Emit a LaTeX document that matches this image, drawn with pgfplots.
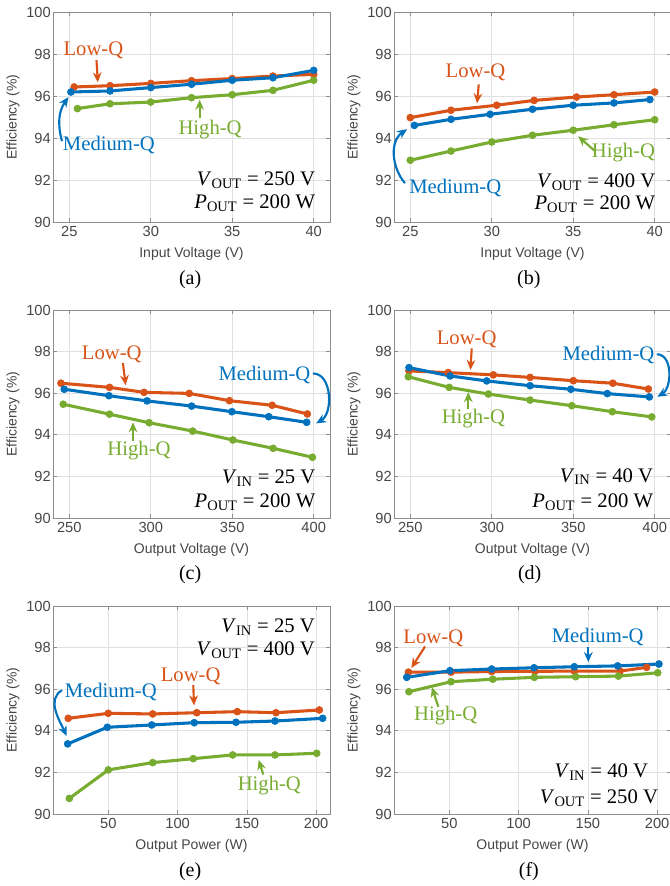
\documentclass[border=0pt]{standalone}
\usepackage{fontspec}
\setmainfont{Liberation Serif}
\setsansfont{Liberation Sans}
\usepackage{pgfplots}
\pgfplotsset{compat=1.18}
\usetikzlibrary{arrows.meta}
\definecolor{lowq}{RGB}{217,83,25}
\definecolor{medq}{RGB}{0,114,189}
\definecolor{highq}{RGB}{119,172,48}
\definecolor{axgray}{RGB}{140,140,140}
\definecolor{txtgray}{RGB}{70,70,70}
\pgfplotsset{
  eff/.style={
    scale only axis, width=207.75pt, height=156pt,
    anchor=south west,
    ymin=90, ymax=100, ytick={90,92,...,100},
    grid=major, major grid style={draw=black!12, line width=0.5pt},
    axis line style={draw=axgray, line width=0.6pt},
    tick style={draw=axgray, line width=0.6pt}, tick align=inside, major tick length=3pt,
    tick label style={font=\sffamily\fontsize{11}{11}\selectfont, text=txtgray},
    yticklabel style={inner xsep=1.5pt},
    /pgf/number format/assume math mode=true,
    label style={font=\sffamily\fontsize{10.5}{10.5}\selectfont, text=txtgray},
    xlabel style={yshift=-1pt},
    ylabel={Efficiency (\%)},
    clip=false,
    every axis plot/.append style={line width=2.3pt, mark=*, mark size=2.6pt, mark options={line width=0.5pt}},
  },
}
\tikzset{
  ann/.style={font=\fontsize{15.5}{15.5}\selectfont, inner sep=0pt},
  arr/.style={-{Stealth[length=7.5pt, width=6.5pt]}, line width=1.6pt},
  subcap/.style={font=\fontsize{15}{15}\selectfont, inner sep=0pt},
}
\begin{document}
\begin{tikzpicture}
\useasboundingbox (0,0) rectangle (501.75pt,664.5pt);
% ---------------- (a)
\begin{axis}[eff, at={(39.75pt,498pt)}, height=157.5pt,
  xmin=24, xmax=41, xtick={25,30,35,40}, xlabel={Input Voltage (V)}]
\addplot[lowq] coordinates {(25.3,96.43) (27.5,96.49) (30,96.60) (32.5,96.73) (35,96.83) (37.5,96.95) (40,97.03)};
\addplot[medq] coordinates {(25.1,96.19) (27.5,96.24) (30,96.40) (32.5,96.56) (35,96.75) (37.5,96.87) (40,97.22)};
\addplot[highq] coordinates {(25.5,95.40) (27.5,95.63) (30,95.71) (32.5,95.92) (35,96.06) (37.5,96.27) (40,96.75)};
\node[ann, text=lowq] at (axis cs:26.48,98.16) {Low-Q};
\draw[arr, lowq] (axis cs:26.67,97.71) -- (axis cs:26.75,96.65);
\node[ann, text=medq] at (axis cs:27.43,93.67) {Medium-Q};
\draw[arr, medq] (axis cs:24.55,93.85) to[out=105,in=235] (axis cs:24.95,95.95);
\node[ann, text=highq] at (axis cs:33.64,94.38) {High-Q};
\draw[arr, highq] (axis cs:33.0,94.95) -- (axis cs:33.0,95.82);
\node[ann, anchor=east] at (axis cs:40.1,92.0) {\textit{V}\textsubscript{OUT} = 250 V};
\node[ann, anchor=east] at (axis cs:40.1,90.9) {\textit{P}\textsubscript{OUT} = 200 W};
\node[subcap] at (rel axis cs:0.495,-0.276) {(a)};
\end{axis}
% ---------------- (b)
\begin{axis}[eff, at={(295.5pt,498pt)}, height=157.5pt,
  xmin=24, xmax=41, xtick={25,30,35,40}, xlabel={Input Voltage (V)}]
\addplot[lowq] coordinates {(25,94.97) (27.5,95.32) (30.3,95.56) (32.6,95.79) (35.2,95.95) (37.5,96.06) (40,96.19)};
\addplot[medq] coordinates {(25.25,94.60) (27.5,94.89) (29.9,95.13) (32.5,95.37) (35,95.56) (37.5,95.67) (39.7,95.83)};
\addplot[highq] coordinates {(25,92.94) (27.5,93.38) (30,93.81) (32.5,94.13) (35,94.37) (37.5,94.63) (40,94.87)};
\node[ann, text=lowq] at (axis cs:29.0,97.14) {Low-Q};
\draw[arr, lowq] (axis cs:29.2,96.55) -- (axis cs:29.1,95.65);
\node[ann, text=medq] at (axis cs:27.76,91.63) {Medium-Q};
\draw[arr, medq] (axis cs:24.67,91.85) to[out=130,in=215] (axis cs:24.8,94.42);
\node[ann, text=highq] at (axis cs:38.08,93.29) {High-Q};
\draw[arr, highq] (axis cs:36.3,93.4) -- (axis cs:35.3,94.08);
\node[ann, anchor=east] at (axis cs:40.05,91.9) {\textit{V}\textsubscript{OUT} = 400 V};
\node[ann, anchor=east] at (axis cs:40.05,90.84) {\textit{P}\textsubscript{OUT} = 200 W};
\node[subcap] at (rel axis cs:0.487,-0.276) {(b)};
\end{axis}
% ---------------- (c)
\begin{axis}[eff, at={(39.75pt,276pt)},
  xmin=240, xmax=410, xtick={250,300,350,400}, xlabel={Output Voltage (V)}]
\addplot[lowq] coordinates {(244.9,96.48) (274.7,96.28) (295.9,96.04) (323.6,95.99) (348.3,95.64) (374.5,95.42) (396.1,95.00)};
\addplot[medq] coordinates {(246.9,96.19) (274.3,95.88) (297.7,95.63) (325.1,95.38) (349.8,95.11) (372.4,94.87) (395.7,94.60)};
\addplot[highq] coordinates {(246.3,95.47) (274.7,94.99) (299,94.58) (325.7,94.18) (350.4,93.75) (375.1,93.35) (399.2,92.92)};
\node[ann, text=lowq] at (axis cs:276.1,97.87) {Low-Q};
\draw[arr, lowq] (axis cs:282.9,97.45) -- (axis cs:284.6,96.38);
\node[ann, text=medq] at (axis cs:369.8,96.88) {Medium-Q};
\draw[arr, medq] (axis cs:399.5,96.95) to[out=0,in=30] (axis cs:401.5,94.55);
\node[ann, text=highq] at (axis cs:292.8,93.24) {High-Q};
\draw[arr, highq] (axis cs:289.1,93.7) -- (axis cs:289.1,94.6);
\node[ann, anchor=east] at (axis cs:401.2,91.91) {\textit{V}\textsubscript{IN} = 25 V};
\node[ann, anchor=east] at (axis cs:401.2,90.78) {\textit{P}\textsubscript{OUT} = 200 W};
\node[subcap] at (rel axis cs:0.495,-0.274) {(c)};
\end{axis}
% ---------------- (d)
\begin{axis}[eff, at={(295.5pt,276pt)},
  xmin=240, xmax=410, xtick={250,300,350,400}, xlabel={Output Voltage (V)}]
\addplot[lowq] coordinates {(249.2,97.07) (273.3,96.99) (301,96.88) (323.5,96.76) (350.1,96.60) (374.3,96.48) (396.1,96.20)};
\addplot[medq] coordinates {(249.2,97.23) (274.4,96.83) (296.9,96.59) (323.5,96.36) (348.5,96.19) (370.9,95.98) (396.7,95.82)};
\addplot[highq] coordinates {(248.8,96.79) (273.9,96.28) (297.9,95.96) (323.5,95.67) (349.1,95.40) (374,95.11) (398.2,94.86)};
\node[ann, text=lowq] at (axis cs:284.6,98.61) {Low-Q};
\draw[arr, lowq] (axis cs:287.7,98.15) -- (axis cs:286.9,97.12);
\node[ann, text=medq] at (axis cs:371.6,97.84) {Medium-Q};
\draw[arr, medq] (axis cs:401.3,97.87) to[out=0,in=30] (axis cs:401.6,95.83);
\node[ann, text=highq] at (axis cs:288.7,94.76) {High-Q};
\draw[arr, highq] (axis cs:285.6,95.25) -- (axis cs:285.6,96.05);
\node[ann, anchor=east] at (axis cs:399.2,91.99) {\textit{V}\textsubscript{IN} = 40 V};
\node[ann, anchor=east] at (axis cs:399.2,90.78) {\textit{P}\textsubscript{OUT} = 200 W};
\node[subcap] at (rel axis cs:0.49,-0.274) {(d)};
\end{axis}
% ---------------- (e)
\begin{axis}[eff, at={(39.75pt,54pt)},
  xmin=10, xmax=210, xtick={50,100,150,200}, xlabel={Output Power (W)}]
\addplot[lowq] coordinates {(21,94.60) (49.9,94.84) (82,94.81) (113.8,94.87) (143.1,94.92) (171,94.87) (202.3,95.00)};
\addplot[medq] coordinates {(20.6,93.37) (49.2,94.17) (81.3,94.28) (112,94.39) (142.1,94.41) (170.3,94.47) (204.7,94.60)};
\addplot[highq] coordinates {(21.8,90.75) (49.9,92.12) (82,92.47) (111.3,92.66) (139.7,92.84) (170.3,92.84) (200.4,92.92)};
\node[ann, text=lowq] at (axis cs:109.4,96.63) {Low-Q};
\draw[arr, lowq] (axis cs:111.3,96.2) -- (axis cs:111.8,95.22);
\node[ann, text=medq] at (axis cs:51.7,95.88) {Medium-Q};
\draw[arr, medq] (axis cs:16.5,95.95) to[out=210,in=115] (axis cs:19.9,93.75);
\node[ann, text=highq] at (axis cs:166.2,91.36) {High-Q};
\draw[arr, highq] (axis cs:161.8,91.9) -- (axis cs:158.5,92.6);
\node[ann, anchor=east] at (axis cs:199.2,99.0) {\textit{V}\textsubscript{IN} = 25 V};
\node[ann, anchor=east] at (axis cs:199.2,97.88) {\textit{V}\textsubscript{OUT} = 400 V};
\node[subcap] at (rel axis cs:0.495,-0.279) {(e)};
\end{axis}
% ---------------- (f)
\begin{axis}[eff, at={(295.5pt,54pt)},
  xmin=10, xmax=210, xtick={50,100,150,200}, xlabel={Output Power (W)}]
\addplot[lowq] coordinates {(20.4,96.82) (51.2,96.82) (80.5,96.85) (111.8,96.86) (140.2,96.87) (173.2,96.87) (192.4,97.05)};
\addplot[medq] coordinates {(19.2,96.57) (50.4,96.89) (80.5,96.97) (111.1,97.03) (140.2,97.08) (171.5,97.12) (201.3,97.21)};
\addplot[highq] coordinates {(20.8,95.88) (51.2,96.36) (81.3,96.48) (111.3,96.57) (141.2,96.60) (172,96.63) (200.4,96.79)};
\node[ann, text=lowq] at (axis cs:38.4,98.45) {Low-Q};
\draw[arr, lowq] (axis cs:32.4,98.05) -- (axis cs:22.5,97.02);
\node[ann, text=medq] at (axis cs:157.1,98.53) {Medium-Q};
\draw[arr, medq] (axis cs:150.3,98.05) -- (axis cs:150.3,97.3);
\node[ann, text=highq] at (axis cs:47.3,94.73) {High-Q};
\draw[arr, highq] (axis cs:42.0,95.15) -- (axis cs:37.4,96.1);
\node[ann, anchor=east] at (axis cs:193.6,92.03) {\textit{V}\textsubscript{IN} = 40 V};
\node[ann, anchor=east] at (axis cs:200.8,90.75) {\textit{V}\textsubscript{OUT} = 250 V};
\node[subcap] at (rel axis cs:0.487,-0.279) {(f)};
\end{axis}
\end{tikzpicture}
\end{document}
